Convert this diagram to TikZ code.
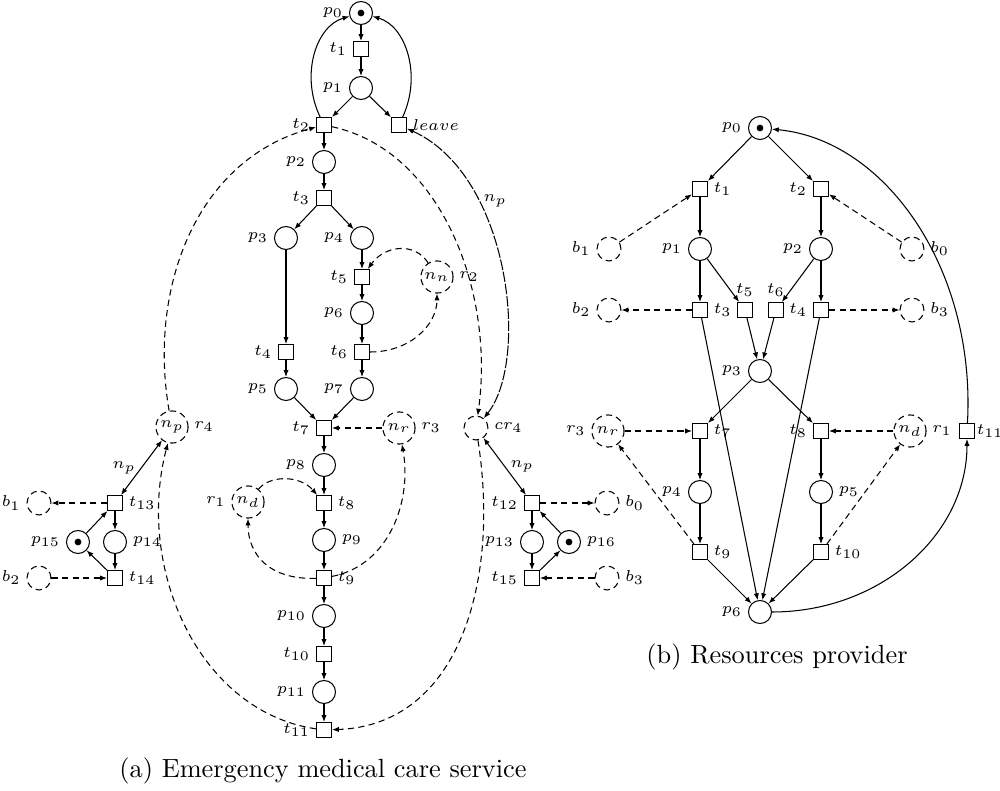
\documentclass[tikz,border=0pt]{standalone}
\usetikzlibrary{arrows.meta}
\newcommand\labfont{\fontsize{6}{7}\selectfont}
\tikzset{
  pl/.style={circle, draw, minimum size=8.74pt, inner sep=0pt},
  tr/.style={rectangle, draw, minimum size=5.7pt, inner sep=0pt},
  dashpat/.style={dash pattern=on 2.4pt off 1.6pt},
  res/.style={circle, draw, dashpat, minimum size=12.2pt, inner sep=0pt, font=\labfont},
  bf/.style={circle, draw, dashpat, minimum size=9.1pt, inner sep=0pt},
  lab/.style={font=\labfont, inner sep=2pt},
  arr/.style={-{Latex[length=2.6pt,width=2pt]}},
  barr/.style={{Latex[length=2.6pt,width=2pt]}-{Latex[length=2.6pt,width=2pt]}},
  darr/.style={arr, dashpat},
  dbarr/.style={barr, dash pattern=on 4pt off 0.7pt},
  tok/.style={fill, circle, inner sep=0pt, minimum size=2.6pt},
  captext/.style={font=\normalsize, inner sep=0pt},
}
\begin{document}
\begin{tikzpicture}[x=0.38pt,y=-0.38pt]
\useasboundingbox (0,0) rectangle (1000,791);

% ---------- (a) emergency medical care service ----------
\node[pl, label={[lab]left:$p_0$}] (a-p0) at (361,13) {};
\node[tok] at (a-p0) {};
\node[tr, label={[lab]left:$t_1$}] (a-t1) at (361,49) {};
\node[pl, label={[lab]left:$p_1$}] (a-p1) at (361,88) {};
\node[tr, label={[lab]left:$t_2$}] (a-t2) at (324,125) {};
\node[tr, label={[lab]right:$leave$}] (a-leave) at (399,125) {};
\node[pl, label={[lab]left:$p_2$}] (a-p2) at (324,162) {};
\node[tr, label={[lab]left:$t_3$}] (a-t3) at (324,198) {};
\node[pl, label={[lab]left:$p_3$}] (a-p3) at (286,238) {};
\node[pl, label={[lab]left:$p_4$}] (a-p4) at (362,238) {};
\node[tr, label={[lab]left:$t_5$}] (a-t5) at (362,277) {};
\node[res, label={[lab]right:$r_2$}] (a-nn) at (437,277) {$n_n$};
\node[pl, label={[lab]left:$p_6$}] (a-p6) at (362,313) {};
\node[tr, label={[lab]left:$t_6$}] (a-t6) at (362,352) {};
\node[tr, label={[lab]left:$t_4$}] (a-t4) at (286,352) {};
\node[pl, label={[lab]left:$p_5$}] (a-p5) at (286,389) {};
\node[pl, label={[lab]left:$p_7$}] (a-p7) at (362,389) {};
\node[tr, label={[lab]left:$t_7$}] (a-t7) at (324,428) {};
\node[res, label={[lab]right:$r_3$}] (a-nr) at (399,428) {$n_r$};
\node[bf, label={[lab]right:$cr_4$}] (a-cr4) at (476,428) {};
\node[res, label={[lab]right:$r_4$}] (a-r4) at (172,427) {$n_p$};
\node[pl, label={[lab]left:$p_8$}] (a-p8) at (324,465) {};
\node[tr, label={[lab]right:$t_8$}] (a-t8) at (324,503) {};
\node[res, label={[lab]left:$r_1$}] (a-nd) at (248,502) {$n_d$};
\node[pl, label={[lab]right:$p_9$}] (a-p9) at (324,540) {};
\node[tr, label={[lab]right:$t_9$}] (a-t9) at (324,578) {};
\node[pl, label={[lab]left:$p_{10}$}] (a-p10) at (324,616) {};
\node[tr, label={[lab]left:$t_{10}$}] (a-t10) at (324,654) {};
\node[pl, label={[lab]left:$p_{11}$}] (a-p11) at (324,692) {};
\node[tr, label={[lab]left:$t_{11}$}] (a-t11) at (324,730) {};

% patient sub-net on the left
\node[tr, label={[lab]right:$t_{13}$}] (a-t13) at (115,503) {};
\node[bf, label={[lab]left:$b_1$}] (a-b1) at (39,503) {};
\node[pl, label={[lab]left:$p_{15}$}] (a-p15) at (78,542) {};
\node[tok] at (a-p15) {};
\node[pl, label={[lab]right:$p_{14}$}] (a-p14) at (115,542) {};
\node[tr, label={[lab]right:$t_{14}$}] (a-t14) at (115,578) {};
\node[bf, label={[lab]left:$b_2$}] (a-b2) at (39,578) {};

% patient sub-net on the right
\node[tr, label={[lab]left:$t_{12}$}] (a-t12) at (532,503) {};
\node[bf, label={[lab]right:$b_0$}] (a-b0) at (607,503) {};
\node[pl, label={[lab]left:$p_{13}$}] (a-p13) at (532,542) {};
\node[pl, label={[lab]right:$p_{16}$}] (a-p16) at (569,542) {};
\node[tok] at (a-p16) {};
\node[tr, label={[lab]left:$t_{15}$}] (a-t15) at (532,578) {};
\node[bf, label={[lab]right:$b_3$}] (a-b3) at (607,578) {};

% main flow
\draw[arr] (a-p0) -- (a-t1);
\draw[arr] (a-t1) -- (a-p1);
\draw[arr] (a-p1) -- (a-t2);
\draw[arr] (a-p1) -- (a-leave);
\draw[arr] (a-t2) .. controls (300,75) and (316,26) .. (a-p0);
\draw[arr] (a-leave) .. controls (422,75) and (406,26) .. (a-p0);
\draw[arr] (a-t2) -- (a-p2);
\draw[arr] (a-p2) -- (a-t3);
\draw[arr] (a-t3) -- (a-p3);
\draw[arr] (a-t3) -- (a-p4);
\draw[arr] (a-p3) -- (a-t4);
\draw[arr] (a-p4) -- (a-t5);
\draw[arr] (a-t5) -- (a-p6);
\draw[arr] (a-p6) -- (a-t6);
\draw[arr] (a-t4) -- (a-p5);
\draw[arr] (a-t6) -- (a-p7);
\draw[arr] (a-p5) -- (a-t7);
\draw[arr] (a-p7) -- (a-t7);
\draw[arr] (a-t7) -- (a-p8);
\draw[arr] (a-p8) -- (a-t8);
\draw[arr] (a-t8) -- (a-p9);
\draw[arr] (a-p9) -- (a-t9);
\draw[arr] (a-t9) -- (a-p10);
\draw[arr] (a-p10) -- (a-t10);
\draw[arr] (a-t10) -- (a-p11);
\draw[arr] (a-p11) -- (a-t11);

% resource arcs
\draw[darr] (a-nn) .. controls (415,242) and (385,245) .. (a-t5);
\draw[darr] (a-t6) .. controls (410,352) and (437,325) .. (a-nn);
\draw[darr] (a-nr) -- (a-t7);
\draw[darr] (a-nd) .. controls (270,475) and (300,475) .. (a-t8);
\draw[darr] (a-t9) .. controls (270,580) and (248,555) .. (a-nd);
\draw[darr] (a-t9) .. controls (390,565) and (412,500) .. (a-nr);
\draw[darr] (a-r4) .. controls (148,290) and (195,160) .. (a-t2);
\draw[darr] (a-t2) .. controls (440,150) and (495,290) .. (a-cr4);
\draw[dbarr] (a-leave) .. controls (510,175) and (530,360) .. (a-cr4)
  node[lab, pos=0.3, right] {$n_p$};
\draw[darr] (a-cr4) .. controls (500,580) and (460,725) .. (a-t11);
\draw[darr] (a-t11) .. controls (200,712) and (135,570) .. (a-r4);

% patient sub-nets
\draw[barr] (a-r4) -- (a-t13) node[lab, midway, left] {$n_p$};
\draw[darr] (a-t13) -- (a-b1);
\draw[darr] (a-b2) -- (a-t14);
\draw[arr] (a-t13) -- (a-p14);
\draw[arr] (a-p14) -- (a-t14);
\draw[arr] (a-t14) -- (a-p15);
\draw[arr] (a-p15) -- (a-t13);
\draw[barr] (a-cr4) -- (a-t12) node[lab, midway, right] {$n_p$};
\draw[darr] (a-t12) -- (a-b0);
\draw[darr] (a-b3) -- (a-t15);
\draw[arr] (a-t12) -- (a-p13);
\draw[arr] (a-p13) -- (a-t15);
\draw[arr] (a-t15) -- (a-p16);
\draw[arr] (a-p16) -- (a-t12);

\node[captext] (capa) at (323,771) {(a) Emergency medical care service};

% ---------- (b) resources provider ----------
\node[pl, label={[lab]left:$p_0$}] (b-p0) at (760,128) {};
\node[tok] at (b-p0) {};
\node[tr, label={[lab]right:$t_1$}] (b-t1) at (700,189) {};
\node[tr, label={[lab]left:$t_2$}] (b-t2) at (821,189) {};
\node[pl, label={[lab]left:$p_1$}] (b-p1) at (700,249) {};
\node[pl, label={[lab]left:$p_2$}] (b-p2) at (821,249) {};
\node[bf, label={[lab]left:$b_1$}] (b-b1) at (609,249) {};
\node[bf, label={[lab]right:$b_0$}] (b-b0) at (912,249) {};
\node[tr, label={[lab]right:$t_3$}] (b-t3) at (700,310) {};
\node[tr, label={[lab]above:$t_5$}] (b-t5) at (745,310) {};
\node[tr, label={[lab]above:$t_6$}] (b-t6) at (776,310) {};
\node[tr, label={[lab]left:$t_4$}] (b-t4) at (821,310) {};
\node[bf, label={[lab]left:$b_2$}] (b-b2) at (609,310) {};
\node[bf, label={[lab]right:$b_3$}] (b-b3) at (912,310) {};
\node[pl, label={[lab]left:$p_3$}] (b-p3) at (760,371) {};
\node[tr, label={[lab]right:$t_7$}] (b-t7) at (700,431) {};
\node[tr, label={[lab]left:$t_8$}] (b-t8) at (821,431) {};
\node[res, label={[lab]left:$r_3$}] (b-nr) at (608,431) {$n_r$};
\node[res, label={[lab]right:$r_1$}] (b-nd) at (910,431) {$n_d$};
\node[tr, label={[lab, inner sep=0.5pt]right:$t_{11}$}] (b-t11) at (967,431) {};
\node[pl, label={[lab]left:$p_4$}] (b-p4) at (700,492) {};
\node[pl, label={[lab]right:$p_5$}] (b-p5) at (821,492) {};
\node[tr, label={[lab]right:$t_9$}] (b-t9) at (700,552) {};
\node[tr, label={[lab]right:$t_{10}$}] (b-t10) at (821,552) {};
\node[pl, label={[lab]left:$p_6$}] (b-p6) at (760,612) {};

\draw[arr] (b-p0) -- (b-t1);
\draw[arr] (b-p0) -- (b-t2);
\draw[arr] (b-t1) -- (b-p1);
\draw[arr] (b-t2) -- (b-p2);
\draw[arr] (b-p1) -- (b-t3);
\draw[arr] (b-p1) -- (b-t5);
\draw[arr] (b-p2) -- (b-t6);
\draw[arr] (b-p2) -- (b-t4);
\draw[arr] (b-t5) -- (b-p3);
\draw[arr] (b-t6) -- (b-p3);
\draw[arr] (b-t3) -- (b-p6);
\draw[arr] (b-t4) -- (b-p6);
\draw[arr] (b-p3) -- (b-t7);
\draw[arr] (b-p3) -- (b-t8);
\draw[arr] (b-t7) -- (b-p4);
\draw[arr] (b-p4) -- (b-t9);
\draw[arr] (b-t9) -- (b-p6);
\draw[arr] (b-t8) -- (b-p5);
\draw[arr] (b-p5) -- (b-t10);
\draw[arr] (b-t10) -- (b-p6);
\draw[arr] (b-p6) .. controls (880,612) and (967,535) .. (b-t11);
\draw[arr] (b-t11) .. controls (976,270) and (886,140) .. (b-p0);

\draw[darr] (b-b1) -- (b-t1);
\draw[darr] (b-b0) -- (b-t2);
\draw[darr] (b-t3) -- (b-b2);
\draw[darr] (b-t4) -- (b-b3);
\draw[darr] (b-nr) -- (b-t7);
\draw[darr] (b-nd) -- (b-t8);
\draw[darr] (b-t9) -- (b-nr);
\draw[darr] (b-t10) -- (b-nd);

\node[captext] (capb) at (777,657) {(b) Resources provider};
\end{tikzpicture}
\end{document}
